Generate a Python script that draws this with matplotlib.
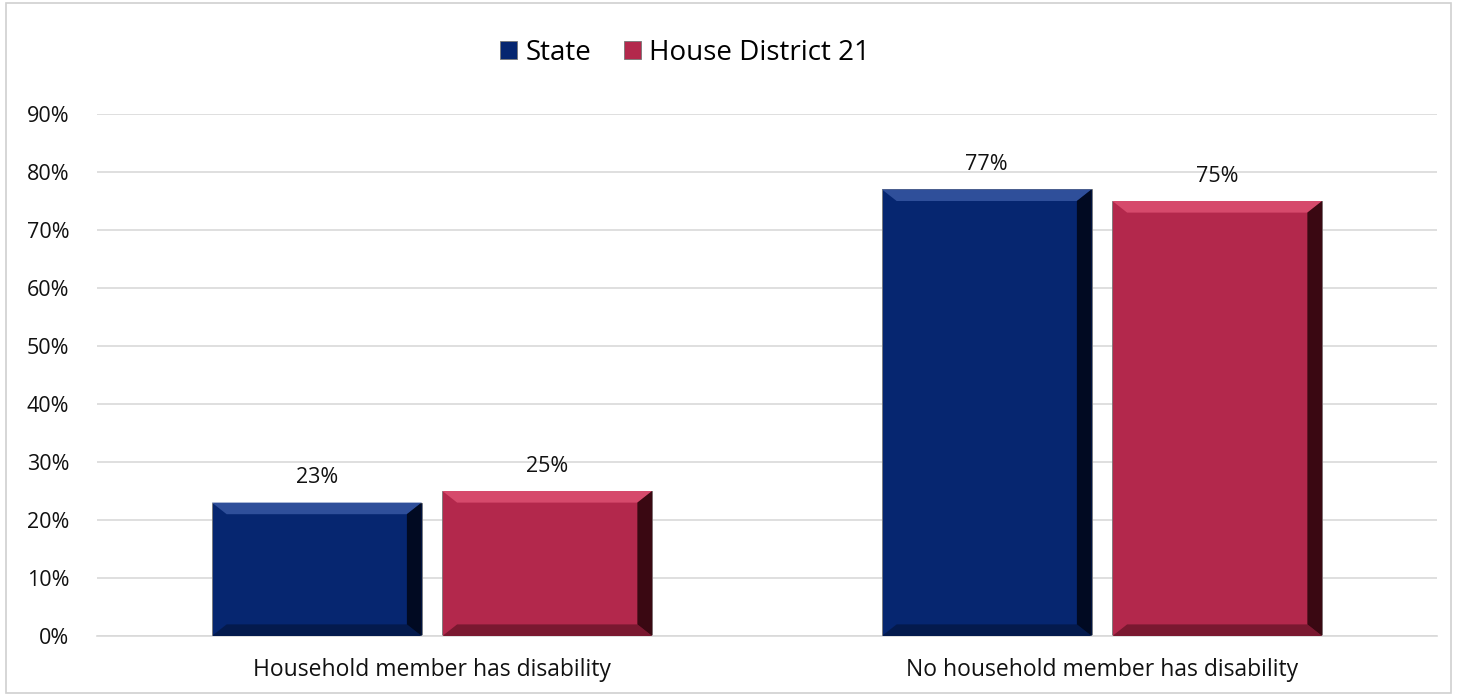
import numpy as np
import matplotlib
matplotlib.use("Agg")
import matplotlib.pyplot as plt
from matplotlib.patches import Polygon, Rectangle
from matplotlib.ticker import PercentFormatter

plt.rcParams['font.family'] = ['Open Sans', 'DejaVu Sans']

# data
categories = ['Household member has disability', 'No household member has disability']
state = [0.23, 0.77]
district = [0.25, 0.75]
series_names = ['State', 'House District 21']
colors = ['#062670', '#b3284c']
top_light = ['#2f4f9a', '#d64a6c']
bottom_dark = ['#041a4d', '#7a1830']
right_dark = ['#010a22', '#3a0812']

fig = plt.figure(figsize=(14.57, 6.96), dpi=100)
ax = fig.add_axes([97 / 1457, 60 / 696, 1340 / 1457, 522 / 696])

x = np.arange(len(categories))
width = 0.313
offset = 0.172

# simple bevel look: flat bar plus trapezoid edges
bx, by = 0.022, 0.02
for i, vals in enumerate([state, district]):
    pos = x + (offset if i else -offset)
    bars = ax.bar(pos, vals, width, color=colors[i], label=series_names[i],
                  edgecolor='#777777', linewidth=0.6, zorder=2)
    for b, v in zip(bars, vals):
        x0, x1 = b.get_x(), b.get_x() + b.get_width()
        y0, y1 = 0, v
        ax.add_patch(Polygon([(x0, y1), (x1, y1), (x1 - bx, y1 - by), (x0 + bx, y1 - by)],
                             closed=True, color=top_light[i], lw=0, zorder=3))
        ax.add_patch(Polygon([(x0, y0), (x1, y0), (x1 - bx, y0 + by), (x0 + bx, y0 + by)],
                             closed=True, color=bottom_dark[i], lw=0, zorder=3))
        ax.add_patch(Polygon([(x1, y0), (x1, y1), (x1 - bx, y1 - by), (x1 - bx, y0 + by)],
                             closed=True, color=right_dark[i], lw=0, zorder=3))
        ax.text(b.get_x() + b.get_width() / 2, v + 0.043, f'{v:.0%}',
                ha='center', va='center', fontsize=15.5, color='#111111', zorder=4)

ax.set_xlim(-0.5, 1.5)
ax.set_ylim(0, 0.9)
ax.set_yticks(np.arange(0, 0.91, 0.1))
ax.yaxis.set_major_formatter(PercentFormatter(1.0, decimals=0))
ax.set_xticks(x)
ax.set_xticklabels(categories)
ax.tick_params(axis='both', length=0, labelsize=15.5, colors='#111111')
ax.tick_params(axis='x', pad=16, labelsize=16.5)
ax.tick_params(axis='y', pad=20)
ax.grid(axis='y', color='#d9d9d9', linewidth=1.2, zorder=0)
ax.set_axisbelow(True)
for s in ['top', 'right', 'left']:
    ax.spines[s].set_visible(False)
ax.spines['bottom'].set_color('#d9d9d9')
ax.spines['bottom'].set_linewidth(1.2)

ax.legend(loc='center', bbox_to_anchor=(0.439, 1.117), ncol=2, frameon=False,
          fontsize=20, handlelength=0.6, handleheight=0.6, handletextpad=0.3,
          columnspacing=1.2)

# outer frame
fig.patches.append(Rectangle((0.004, 0.004), 0.992, 0.992, transform=fig.transFigure,
                             fill=False, edgecolor='#d0d0d0', linewidth=1.2))

fig.savefig('out.png', dpi=100)
